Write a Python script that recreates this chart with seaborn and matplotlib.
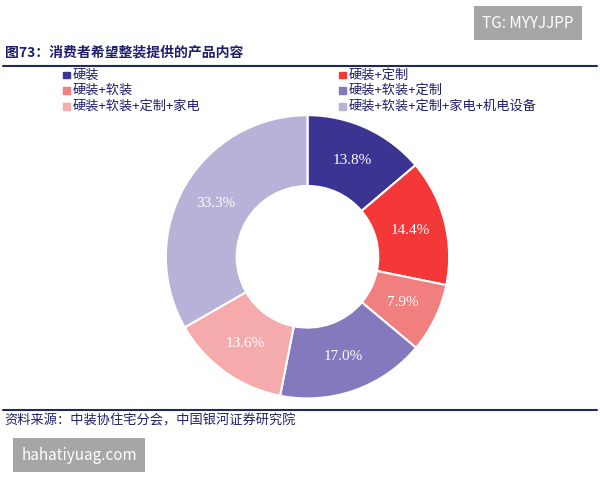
import numpy as np
import seaborn as sns
import matplotlib.pyplot as plt
from matplotlib.patches import Rectangle

categories = ['硬装', '硬装+定制', '硬装+软装', '硬装+软装+定制', '硬装+软装+定制+家电', '硬装+软装+定制+家电+机电设备']
shares = [13.8, 14.4, 7.9, 17.0, 13.6, 33.3]
colors = ['#3c3493', '#f43838', '#f17f7f', '#8579be', '#f5abab', '#b8b1d8']

sns.set_theme(style="white")
plt.rcParams['font.family'] = ['Noto Sans CJK SC', 'DejaVu Sans']

fig = plt.figure(figsize=(6, 4.8), dpi=100)
fig.patch.set_facecolor('white')

# donut
ax = fig.add_axes([0.274, 0.167, 0.477, 0.596])
wedges, texts = ax.pie(shares, colors=colors, startangle=90, counterclock=False,
                       wedgeprops=dict(width=0.5, edgecolor='white', linewidth=1.5))
for w, v in zip(wedges, shares):
    ang = np.deg2rad((w.theta1 + w.theta2) / 2)
    ax.text(0.75 * np.cos(ang), 0.75 * np.sin(ang), f"{v:.1f}%", ha='center', va='center',
            color='white', fontsize=11, family=['Liberation Serif', 'DejaVu Serif'])
ax.set_xlim(-1.01, 1.01)
ax.set_ylim(-1.01, 1.01)
ax.set_aspect('equal')

# title and rules
fig.text(0.008, 0.89, '图73：消费者希望整装提供的产品内容', fontsize=10, fontweight='bold',
         color='#1f1f6e', va='center')
fig.add_artist(plt.Line2D([0.005, 0.995], [0.862, 0.862], color='#1f2a55', lw=1.5))
fig.add_artist(plt.Line2D([0.005, 0.995], [0.146, 0.146], color='#1f2a55', lw=1.5))
fig.text(0.008, 0.123, '资料来源：中装协住宅分会，中国银河证券研究院', fontsize=9.5,
         color='#1f1f6e', va='center', style='italic')

# legend
pos = [(0.105, 0.844), (0.565, 0.844), (0.105, 0.811), (0.565, 0.811), (0.105, 0.778), (0.565, 0.778)]
for (x, y), c, lab in zip(pos, colors, categories):
    fig.add_artist(Rectangle((x, y - 0.007), 0.011, 0.014, color=c, transform=fig.transFigure))
    fig.text(x + 0.016, y, lab, fontsize=9.5, va='center', color='#1f1f6e')

# watermark boxes
fig.text(0.88, 0.952, 'TG: MYYJJPP', fontsize=11, color='white', ha='center', va='center',
         bbox=dict(facecolor='#a6a6a6', edgecolor='none', pad=6))
fig.text(0.132, 0.052, 'hahatiyuag.com', fontsize=11, color='white', ha='center', va='center',
         bbox=dict(facecolor='#a6a6a6', edgecolor='none', pad=6))

fig.savefig('out.png', dpi=100)
